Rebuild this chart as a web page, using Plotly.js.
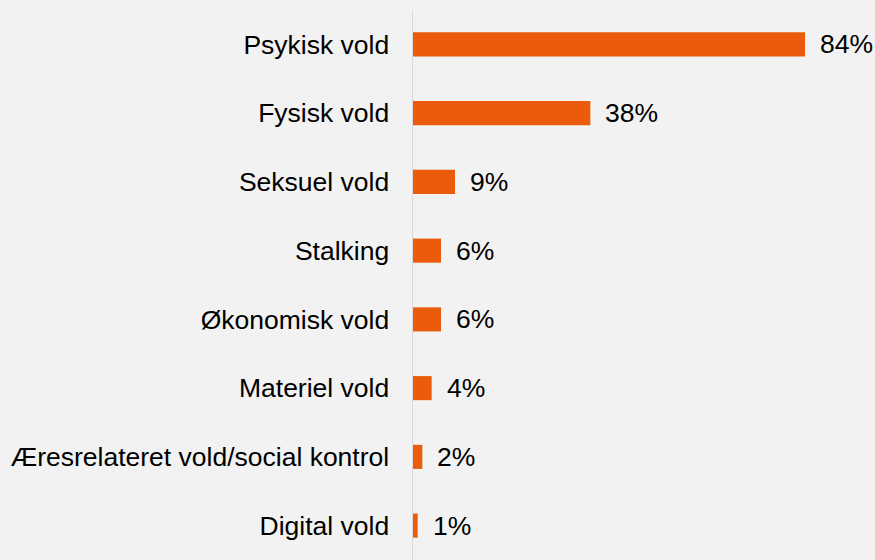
<!DOCTYPE html>
<html>
<head>
<meta charset="utf-8">
<script src="https://cdn.plot.ly/plotly-3.0.1.min.js"></script>
<style>html,body{margin:0;padding:0;background:#F2F2F2;}#chart{width:875px;height:560px;}</style>
</head>
<body>
<div id="chart"></div>
<script>
const categories = ["Psykisk vold","Fysisk vold","Seksuel vold","Stalking","Økonomisk vold","Materiel vold","Æresrelateret vold/social kontrol","Digital vold"];
const values = [84, 38, 9, 6, 6, 4, 2, 1];
const valueLabels = values.map(v => v + "%");

const font = {family: "Liberation Sans, Arial, sans-serif", size: 26.5, color: "#000000"};

const trace = {
  type: "bar",
  orientation: "h",
  x: values,
  y: categories,
  marker: {color: "#EA5B0C"},
  hoverinfo: "none"
};

const annotations = values.map((v, i) => ({
  x: v, y: categories[i], xref: "x", yref: "y",
  text: valueLabels[i], showarrow: false,
  xanchor: "left", xshift: 13, font: font
}));

const layout = {
  width: 875, height: 560,
  paper_bgcolor: "#F2F2F2", plot_bgcolor: "#F2F2F2",
  margin: {l: 413, r: 0, t: 10, b: 0},
  bargap: 0.65,
  showlegend: false,
  font: font,
  xaxis: {range: [0, 99], showgrid: false, zeroline: false, showticklabels: false, showline: false, fixedrange: true},
  yaxis: {autorange: "reversed", showgrid: false, zeroline: false, showline: true, linecolor: "#D9D9D9", linewidth: 1.5,
          ticks: "", ticklabelstandoff: 17, tickfont: font, fixedrange: true},
  annotations: annotations
};

Plotly.newPlot("chart", [trace], layout, {displayModeBar: false, staticPlot: true});
</script>
</body>
</html>
